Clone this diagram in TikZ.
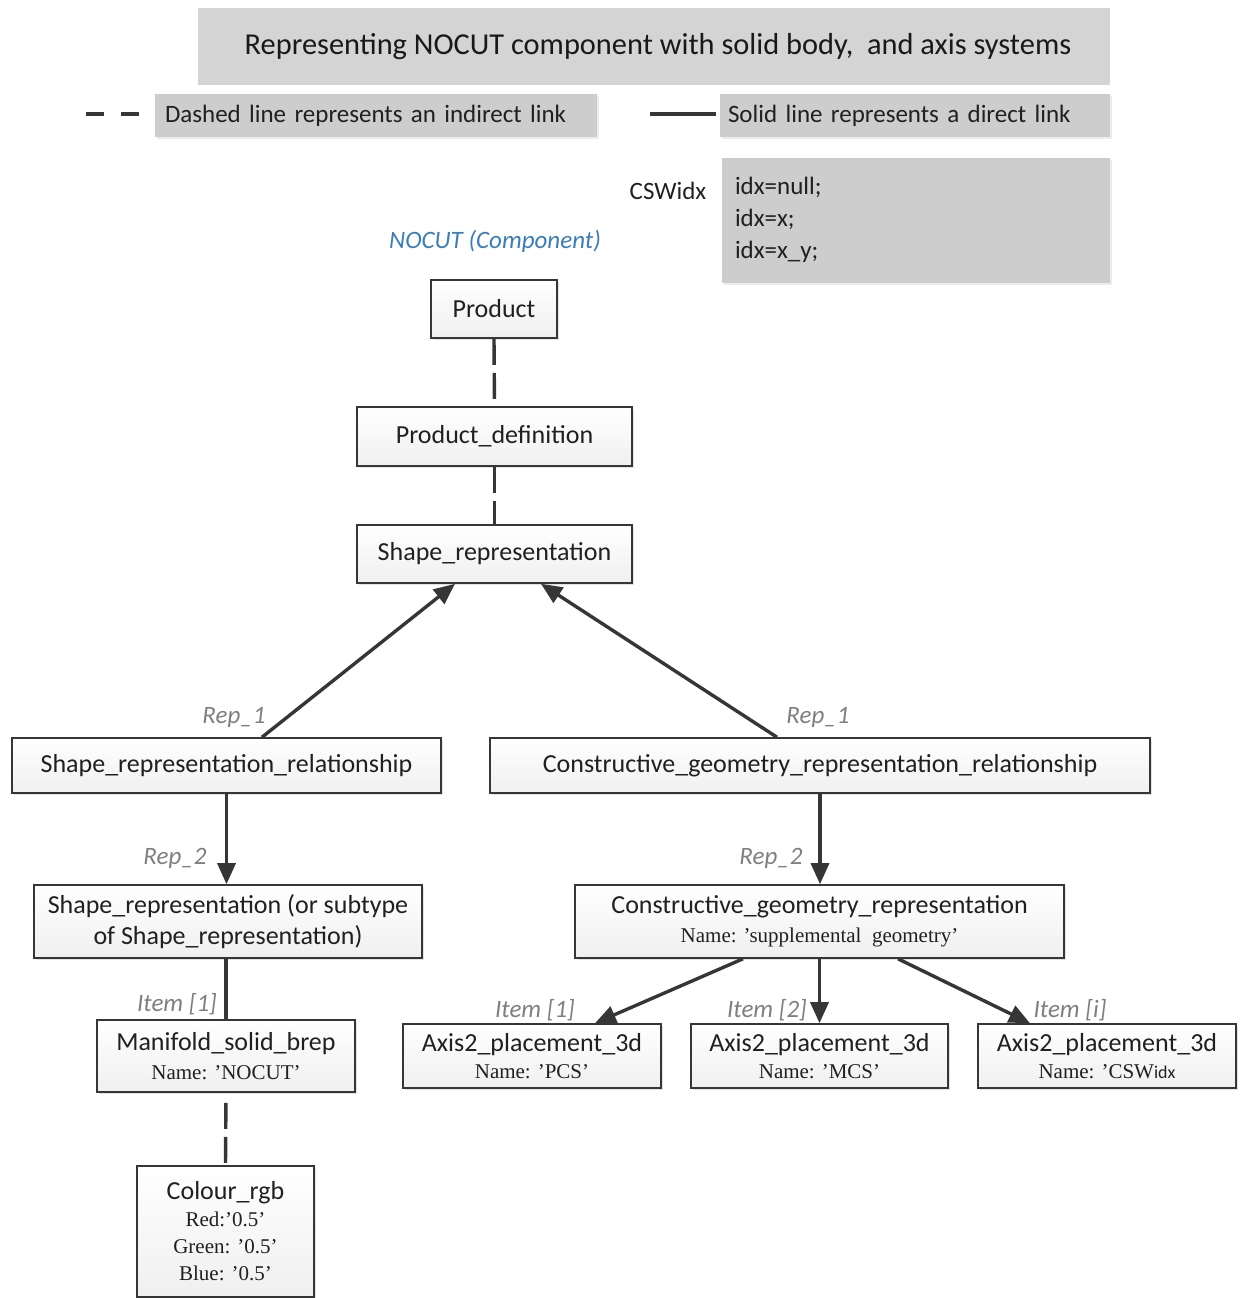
\documentclass[tikz,border=0pt]{standalone}
\usepackage{fontspec}
\setmainfont{Carlito}
\newfontfamily\namefont{Liberation Serif}
\usetikzlibrary{arrows.meta,shadows}
\definecolor{inkgray}{HTML}{202020}
\definecolor{edgegray}{HTML}{363636}
\definecolor{labelgray}{HTML}{7F7F7F}
\definecolor{titlefill}{HTML}{D4D4D4}
\definecolor{legendfill}{HTML}{CDCDCD}
\definecolor{compblue}{HTML}{3A7DB8}
\tikzset{
  entity/.style={draw=edgegray, line width=0.8pt, top color=white, bottom color=gray!12,
    drop shadow={shadow xshift=1.2pt, shadow yshift=-1.2pt, fill=gray!45},
    text=inkgray, font=\fontsize{13}{15.5}\selectfont, align=center, inner sep=2pt},
  graybox/.style={fill=legendfill, text=inkgray,
    drop shadow={shadow xshift=1pt, shadow yshift=-1pt, fill=gray!30}},
  direct/.style={draw=edgegray, line width=1.7pt},
  indirect/.style={draw=edgegray, line width=1.7pt, dash pattern=on 13pt off 4pt},
  pointer/.style={direct, -{Triangle[length=10.5pt,width=9pt]}},
  rolelabel/.style={text=labelgray, font=\fontsize{12.5}{14}\selectfont\itshape}
}
\newcommand{\nameline}[1]{{\namefont\fontsize{10.5}{12}\selectfont #1}}
\begin{document}
\begin{tikzpicture}[x=0.5pt,y=-0.5pt]
\useasboundingbox (0,0) rectangle (1244,1298);

% heading and legend
\node[fill=titlefill, minimum width=456pt, minimum height=38.5pt, inner sep=0pt,
      font=\fontsize{15.2}{18}\selectfont, text=black!90] (title) at (654,46.5)
  {\hspace{4pt}Representing NOCUT component with solid body,\ \ and axis systems};
\node[graybox, minimum width=221pt, minimum height=21.5pt, text width=211pt, align=left,
      inner xsep=5pt, inner ysep=0pt, font=\fontsize{12.5}{14}\selectfont] (legdash) at (376,115.5)
  {Dashed line represents an indirect link};
\node[graybox, minimum width=195pt, minimum height=21.5pt, text width=187pt, align=left,
      inner xsep=4pt, inner ysep=0pt, font=\fontsize{12.5}{14}\selectfont] (legsolid) at (915,115.5)
  {Solid line represents a direct link};
\coordinate (dashA) at (86,114);
\coordinate (dashB) at (150,114);
\coordinate (solidA) at (650,114);
\coordinate (solidB) at (716,114);
\draw[direct, dash pattern=on 9pt off 8.5pt] (dashA) -- (dashB);
\draw[direct] (solidA) -- (solidB);

% index values for the CSW axis system
\node[graybox, minimum width=194pt, minimum height=62.5pt, text width=181pt, align=left,
      inner xsep=6.5pt, font=\fontsize{12.5}{16}\selectfont] (idxbox) at (916,220)
  {idx=null;\\idx=x;\\idx=x\_y;};
\node[font=\fontsize{12.5}{14}\selectfont, text=inkgray] (cswlabel) at (668,191) {CSWidx};

% component entities
\node[text=compblue, font=\fontsize{12.5}{14}\selectfont\itshape] (comp) at (495,241) {NOCUT (Component)};
\node[entity, minimum width=63pt, minimum height=29pt] (product) at (494,309) {Product};
\node[entity, minimum width=137.5pt, minimum height=29.5pt] (pdef) at (494.5,436.5) {Product\_definition};
\node[entity, minimum width=137.5pt, minimum height=29pt] (srep) at (494.5,554) {Shape\_representation};
\node[entity, minimum width=214.5pt, minimum height=27.5pt] (srr) at (226.5,765.5) {Shape\_representation\_relationship};
\node[entity, minimum width=330pt, minimum height=27.5pt] (cgrr) at (820,765.5) {Constructive\_geometry\_representation\_relationship};
\node[entity, minimum width=194pt, minimum height=36.5pt] (srsub) at (228,921.5)
  {Shape\_representation (or subtype\\of Shape\_representation)};
\node[entity, minimum width=244.5pt, minimum height=36.5pt] (cgr) at (819.5,921.5)
  {Constructive\_geometry\_representation\\[-1pt]\nameline{Name: ’supplemental\ \ geometry’}};
\node[entity, minimum width=129pt, minimum height=36pt] (msb) at (226,1056)
  {Manifold\_solid\_brep\\[-1pt]\nameline{Name: ’NOCUT’}};
\node[entity, minimum width=88.5pt, minimum height=65.5pt, font=\fontsize{13}{13.5}\selectfont] (colour) at (225.5,1231.5)
  {Colour\_rgb\\\nameline{Red:’0.5’}\\\nameline{Green: ’0.5’}\\\nameline{Blue: ’0.5’}};
\node[entity, minimum width=129pt, minimum height=32pt] (ax1) at (532,1056)
  {Axis2\_placement\_3d\\[-2pt]\nameline{Name: ’PCS’}};
\node[entity, minimum width=128.5pt, minimum height=32pt] (ax2) at (819.5,1056)
  {Axis2\_placement\_3d\\[-2pt]\nameline{Name: ’MCS’}};
\node[entity, minimum width=129pt, minimum height=32pt] (ax3) at (1107,1056)
  {Axis2\_placement\_3d\\[-2pt]\nameline{Name: ’CSW}{\fontsize{9}{10}\selectfont idx}};

% links
\draw[indirect] (product.south) -- (pdef.north);
\draw[indirect] (pdef.south) -- (srep.north);
\draw[pointer] ([xshift=17.75pt]srr.north) -- ([xshift=-19.75pt]srep.south);
\draw[pointer] ([xshift=-21.5pt]cgrr.north) -- ([xshift=23.25pt]srep.south);
\draw[pointer] (srr.south) -- (srr.south |- srsub.north);
\draw[pointer] (cgrr.south) -- (cgrr.south |- cgr.north);
\draw[direct] (srsub.south -| msb.north) -- (msb.north);
\draw[indirect, shorten <=5pt] (msb.south) -- (colour.north);
\draw[pointer] ([xshift=-38.25pt]cgr.south) -- ([xshift=31.5pt]ax1.north);
\draw[pointer] (cgr.south) -- (cgr.south |- ax2.north);
\draw[pointer] ([xshift=39.25pt]cgr.south) -- ([xshift=-38.5pt]ax3.north);

% role labels
\node[rolelabel] (r1a) at (234,717) {Rep\_1};
\node[rolelabel] (r1b) at (818,717) {Rep\_1};
\node[rolelabel] (r2a) at (175,858) {Rep\_2};
\node[rolelabel] (r2b) at (771,858) {Rep\_2};
\node[rolelabel] (i1a) at (177,1004) {Item [1]};
\node[rolelabel] (i1b) at (535,1010) {Item [1]};
\node[rolelabel] (i2) at (767,1010) {Item [2]};
\node[rolelabel] (ii) at (1070,1010) {Item [i]};
\end{tikzpicture}
\end{document}
